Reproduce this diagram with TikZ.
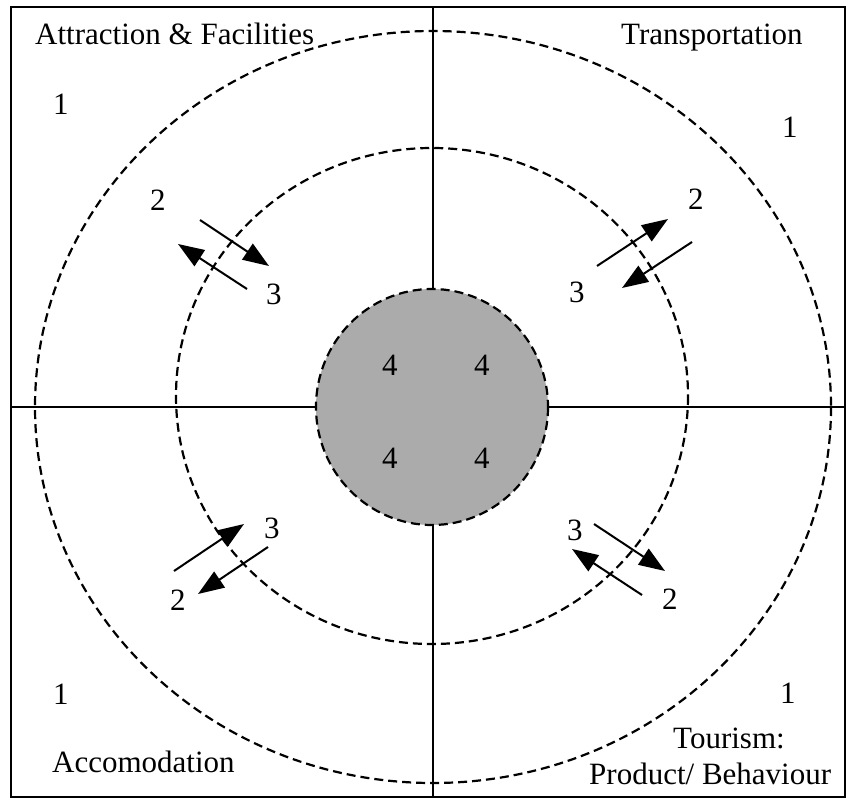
\documentclass[tikz,border=0pt]{standalone}
\usepackage{fontspec}
\setmainfont{Liberation Serif}
\usetikzlibrary{arrows.meta}

\begin{document}
\begin{tikzpicture}[x=1pt, y=-1pt,
    lbl/.style={font=\fontsize{31}{35}\selectfont, inner sep=0pt, anchor=base west},
    ring/.style={dash pattern=on 9pt off 5pt, line width=2.2pt},
    fleche/.style={line width=2pt, -{Triangle[length=26pt, width=19pt]}}]

    \useasboundingbox (0,0) rectangle (853,802);

    % Cadre et axes
    \coordinate (O) at (433,407);
    \draw[line width=2pt] (11,7) rectangle (845,797);
    \draw[line width=1.8pt] (433,7) -- (433,797);
    \draw[line width=1.8pt] (11,407) -- (845,407);

    % Cercles
    \draw[ring] (O) ellipse (398 and 376);
    \draw[ring] (432,396) ellipse (256 and 248);
    \filldraw[ring, fill=black!33] (432,407) ellipse (116 and 118);

    % Titres des quadrants
    \node[lbl] (attr) at (35,45) {Attraction \& Facilities};
    \node[lbl] (trans) at (621,45) {Transportation};
    \node[lbl] (acc) at (52,772) {Accomodation};
    \node[lbl] (tour) at (673,748) {Tourism:};
    \node[lbl] (prod) at (589,784) {Product/ Behaviour};

    % Niveaux
    \node[lbl] (un1) at (53,115) {1};
    \node[lbl] (un2) at (782,138) {1};
    \node[lbl] (un3) at (53,704) {1};
    \node[lbl] (un4) at (780,703) {1};

    \node[lbl] (deuxA) at (150,211) {2};
    \node[lbl] (troisA) at (266,304) {3};
    \node[lbl] (deuxB) at (688,210) {2};
    \node[lbl] (troisB) at (569,302) {3};
    \node[lbl] (troisC) at (264,538) {3};
    \node[lbl] (deuxC) at (170,610) {2};
    \node[lbl] (troisD) at (567,540) {3};
    \node[lbl] (deuxD) at (662,609) {2};

    \node[lbl] (q1) at (382,375) {4};
    \node[lbl] (q2) at (474,375) {4};
    \node[lbl] (q3) at (382,468) {4};
    \node[lbl] (q4) at (474,468) {4};

    % Extremites des fleches
    \coordinate (A1s) at (200,220); \coordinate (A1e) at (269,266);
    \coordinate (A2s) at (247,289); \coordinate (A2e) at (178,244);
    \coordinate (B1s) at (597,266); \coordinate (B1e) at (668,219);
    \coordinate (B2s) at (692,242); \coordinate (B2e) at (622,288);
    \coordinate (C1s) at (174,571); \coordinate (C1e) at (244,524);
    \coordinate (C2s) at (268,547); \coordinate (C2e) at (198,594);
    \coordinate (D1s) at (594,524); \coordinate (D1e) at (665,571);
    \coordinate (D2s) at (642,595); \coordinate (D2e) at (572,549);

    % Fleches
    \draw[fleche] (A1s) -- (A1e);
    \draw[fleche] (A2s) -- (A2e);
    \draw[fleche] (B1s) -- (B1e);
    \draw[fleche] (B2s) -- (B2e);
    \draw[fleche] (C1s) -- (C1e);
    \draw[fleche] (C2s) -- (C2e);
    \draw[fleche] (D1s) -- (D1e);
    \draw[fleche] (D2s) -- (D2e);
\end{tikzpicture}
\end{document}
